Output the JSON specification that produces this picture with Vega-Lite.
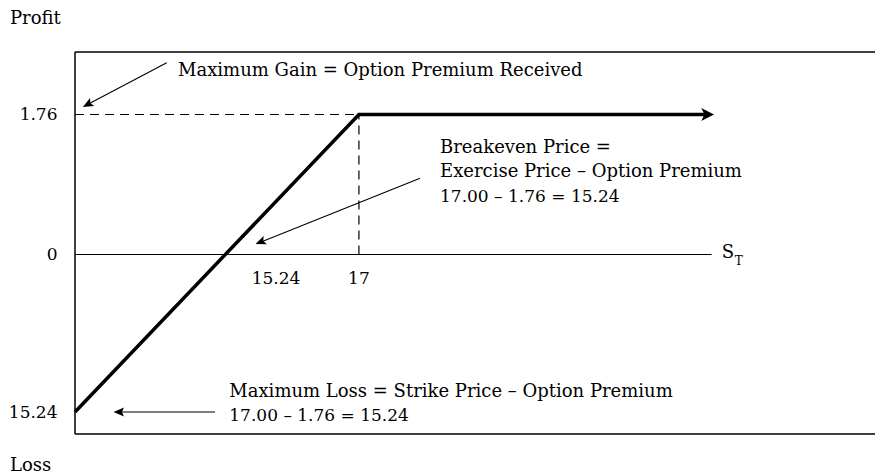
{
  "$schema": "https://vega.github.io/schema/vega-lite/v6.json",
  "width": 800,
  "height": 382,
  "autosize": "none",
  "padding": {"left": 75, "top": 52, "right": 0, "bottom": 40},
  "background": "white",
  "config": {"view": {"stroke": null}, "font": "DejaVu Serif"},
  "datasets": {
    "frame": [
      {"edge": "top", "S": 0, "S_end": 47.9, "profit": 2.546, "profit_end": 2.546},
      {"edge": "bottom", "S": 0, "S_end": 47.9, "profit": -17.369, "profit_end": -17.369},
      {"edge": "left", "S": 0, "S_end": 0, "profit": -17.369, "profit_end": 2.546}
    ],
    "axisline": [{"S": 0, "S_end": 38.12, "profit": 0, "profit_end": 0}],
    "guides": [
      {"guide": "max gain level", "S": 0, "S_end": 17, "profit": 1.76, "profit_end": 1.76},
      {"guide": "strike", "S": 17, "S_end": 17, "profit": 0, "profit_end": 1.76}
    ],
    "payoff": [
      {"S": 0, "profit": -15.24},
      {"S": 17, "profit": 1.76},
      {"S": 37.88, "profit": 1.76}
    ],
    "payoff_head": [{"S": 37.88, "profit": 1.76}],
    "arrows": [
      {"arrow": "gain", "S": 0.748, "profit": 1.886, "S_tail": 5.491, "profit_tail": 2.411},
      {"arrow": "breakeven", "S": 11.102, "profit": 0.155, "S_tail": 20.657, "profit_tail": 0.958},
      {"arrow": "loss", "S": 2.62, "profit": -15.24, "S_tail": 8.383, "profit_tail": -15.24}
    ],
    "notes": [
      {"label": "Profit", "S": -3.892, "profit": 2.898},
      {"label": "Loss", "S": -3.892, "profit": -20.949},
      {"label": "Maximum Gain = Option Premium Received", "S": 6.167, "profit": 2.244},
      {"label": "Breakeven Price =", "S": 21.855, "profit": 1.272},
      {"label": "Exercise Price – Option Premium", "S": 21.855, "profit": 0.9705},
      {"label": "Maximum Loss = Strike Price – Option Premium", "S": 9.239, "profit": -13.818},
      {"label": "S", "S": 38.72, "profit": -0.368}
    ],
    "sums": [
      {"label": "17.00 – 1.76 = 15.24", "S": 21.855, "profit": 0.6638},
      {"label": "17.00 – 1.76 = 15.24", "S": 9.239, "profit": -16.082}
    ],
    "xlabels": [
      {"label": "15.24", "S": 12.035, "profit": -2.854},
      {"label": "17", "S": 17, "profit": -2.854}
    ],
    "subscript": [{"label": "T", "S": 39.5, "profit": -1.016}]
  },
  "encoding": {
    "x": {
      "field": "S",
      "type": "quantitative",
      "scale": {"domain": [0, 47.9], "nice": false, "zero": false},
      "axis": null
    },
    "y": {
      "field": "profit",
      "type": "quantitative",
      "scale": {"domain": [-15.24, 0, 1.76], "range": [360, 202.5, 62.5], "nice": false, "zero": false},
      "axis": {
        "values": [-15.24, 0, 1.76],
        "labelExpr": "datum.value == 0 ? '0' : format(abs(datum.value), '.2f')",
        "domain": false,
        "ticks": false,
        "tickSize": 0,
        "grid": false,
        "title": null,
        "labelPadding": 18,
        "labelFont": "DejaVu Serif",
        "labelFontSize": 17,
        "labelColor": "black",
        "labelOverlap": false,
        "labelFlush": false,
        "labelBound": false
      }
    }
  },
  "layer": [
    {
      "data": {"name": "frame"},
      "mark": {"type": "rule", "color": "black", "strokeWidth": 1.5},
      "encoding": {"x2": {"field": "S_end"}, "y2": {"field": "profit_end"}}
    },
    {
      "data": {"name": "axisline"},
      "mark": {"type": "rule", "color": "black", "strokeWidth": 1.2},
      "encoding": {"x2": {"field": "S_end"}, "y2": {"field": "profit_end"}}
    },
    {
      "data": {"name": "guides"},
      "mark": {"type": "rule", "color": "black", "strokeWidth": 1.2, "strokeDash": [9, 6]},
      "encoding": {"x2": {"field": "S_end"}, "y2": {"field": "profit_end"}}
    },
    {
      "data": {"name": "payoff"},
      "mark": {"type": "line", "color": "black", "strokeWidth": 3.5, "strokeCap": "butt", "strokeJoin": "miter"},
      "encoding": {}
    },
    {
      "data": {"name": "payoff_head"},
      "mark": {"type": "point", "shape": "M 1 0 L -1 -1 L -0.5 0 L -1 1 Z", "size": 164, "filled": true, "color": "black", "opacity": 1, "strokeWidth": 0, "angle": 0}
    },
    {
      "data": {"name": "arrows"},
      "mark": {"type": "rule", "color": "black", "strokeWidth": 1.1},
      "encoding": {"x2": {"field": "S_tail"}, "y2": {"field": "profit_tail"}}
    },
    {
      "data": {"name": "arrows"},
      "transform": [{"filter": "datum.arrow == 'gain'"}],
      "mark": {"type": "point", "shape": "M 1 0 L -1 -0.85 L -0.6 0 L -1 0.85 Z", "size": 110, "filled": true, "color": "black", "opacity": 1, "strokeWidth": 0, "angle": 152.2}
    },
    {
      "data": {"name": "arrows"},
      "transform": [{"filter": "datum.arrow == 'breakeven'"}],
      "mark": {"type": "point", "shape": "M 1 0 L -1 -0.85 L -0.6 0 L -1 0.85 Z", "size": 110, "filled": true, "color": "black", "opacity": 1, "strokeWidth": 0, "angle": 158.2}
    },
    {
      "data": {"name": "arrows"},
      "transform": [{"filter": "datum.arrow == 'loss'"}],
      "mark": {"type": "point", "shape": "M 1 0 L -1 -0.85 L -0.6 0 L -1 0.85 Z", "size": 110, "filled": true, "color": "black", "opacity": 1, "strokeWidth": 0, "angle": 180}
    },
    {
      "data": {"name": "notes"},
      "mark": {"type": "text", "align": "left", "baseline": "alphabetic", "font": "DejaVu Serif", "fontSize": 18, "color": "black"},
      "encoding": {"text": {"field": "label"}}
    },
    {
      "data": {"name": "sums"},
      "mark": {"type": "text", "align": "left", "baseline": "alphabetic", "font": "DejaVu Serif", "fontSize": 17, "color": "black"},
      "encoding": {"text": {"field": "label"}}
    },
    {
      "data": {"name": "xlabels"},
      "mark": {"type": "text", "align": "center", "baseline": "alphabetic", "font": "DejaVu Serif", "fontSize": 17, "color": "black"},
      "encoding": {"text": {"field": "label"}}
    },
    {
      "data": {"name": "subscript"},
      "mark": {"type": "text", "align": "left", "baseline": "alphabetic", "font": "DejaVu Serif", "fontSize": 12, "color": "black"},
      "encoding": {"text": {"field": "label"}}
    }
  ]
}
